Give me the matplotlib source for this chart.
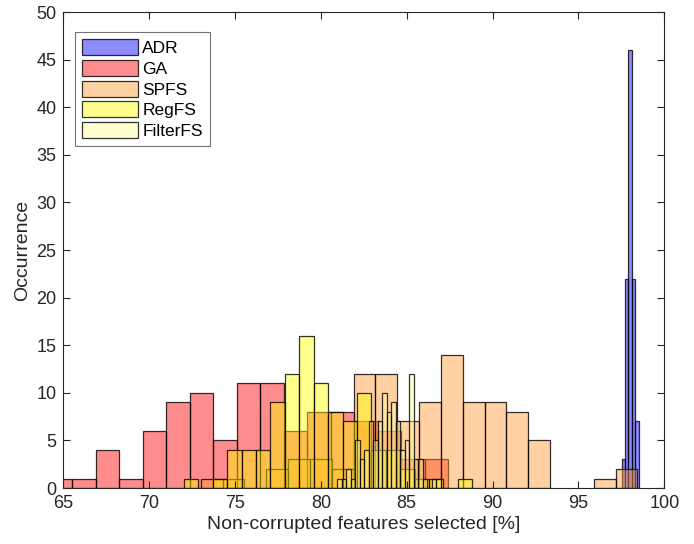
import matplotlib.pyplot as plt
import numpy as np

plt.rcParams["font.family"] = ["Liberation Sans", "DejaVu Sans"]

# Histogram bins per method: first edge, bin width and counts per bin
adr_start, adr_width = 97.52, 0.196
adr_counts = [3, 22, 46, 22, 7]

ga_start, ga_width = 64.16, 1.368
ga_counts = [1, 1, 4, 1, 6, 9, 10, 5, 11, 11, 6, 8, 8, 7, 6, 3, 3]

spfs_start, spfs_width = 73.01, 1.271
spfs_counts = [1, 1, 0, 2, 3, 3, 2, 12, 12, 7, 9, 14, 9, 9, 8, 5, 0, 0, 1, 2]

regfs_start, regfs_width = 72.02, 0.84
regfs_counts = [1, 0, 1, 4, 4, 4, 9, 12, 16, 11, 8, 7, 10, 4, 4, 2, 1, 1, 0, 1]

filterfs_start, filterfs_width = 80.95, 0.262
filterfs_counts = [1, 1, 2, 1, 5, 3, 4, 7, 5, 7, 10, 8, 9, 7, 4, 5, 12, 3, 3, 1, 0, 1, 1]

series = [
    ("ADR", adr_start, adr_width, adr_counts, (0.0, 0.0, 1.0)),
    ("GA", ga_start, ga_width, ga_counts, (1.0, 0.0, 0.0)),
    ("SPFS", spfs_start, spfs_width, spfs_counts, (1.0, 0.6, 0.2)),
    ("RegFS", regfs_start, regfs_width, regfs_counts, (1.0, 1.0, 0.0)),
    ("FilterFS", filterfs_start, filterfs_width, filterfs_counts, (1.0, 1.0, 0.6)),
]
face_alpha = 0.45

fig = plt.figure(figsize=(6.94, 5.44), dpi=100)
ax = fig.add_axes([0.0912, 0.1029, 0.866, 0.875])

for name, start, width, counts, color in series:
    counts = np.array(counts)
    lefts = start + width * np.arange(len(counts))
    keep = counts > 0
    ax.bar(lefts[keep], counts[keep], width=width, align="edge",
           facecolor=(*color, face_alpha), edgecolor=(0, 0, 0, 0.8),
           linewidth=0.9, label=name)

ax.set_xlim(65, 100)
ax.set_ylim(0, 50)
ax.set_xticks(np.arange(65, 101, 5))
ax.set_yticks(np.arange(0, 51, 5))

axis_col = (0.15, 0.15, 0.15)
for sp in ax.spines.values():
    sp.set_color(axis_col)
    sp.set_linewidth(0.8)
ax.tick_params(direction="in", length=5, width=0.8, top=True, right=True,
               colors=axis_col, labelsize=13, pad=5)

ax.set_xlabel("Non-corrupted features selected [%]", fontsize=14,
              color=axis_col, labelpad=3)
ax.set_ylabel("Occurrence", fontsize=14, color=axis_col, labelpad=4)

leg = ax.legend(loc="upper left", bbox_to_anchor=(0.02, 0.958),
                borderaxespad=0, fontsize=12.5, fancybox=False,
                handlelength=3.2, handleheight=1.05, handletextpad=0.25,
                labelspacing=0.22, borderpad=0.4, framealpha=1)
leg.get_frame().set_edgecolor((0.45, 0.45, 0.45))
leg.get_frame().set_linewidth(0.8)

fig.savefig("out.png", dpi=100)
